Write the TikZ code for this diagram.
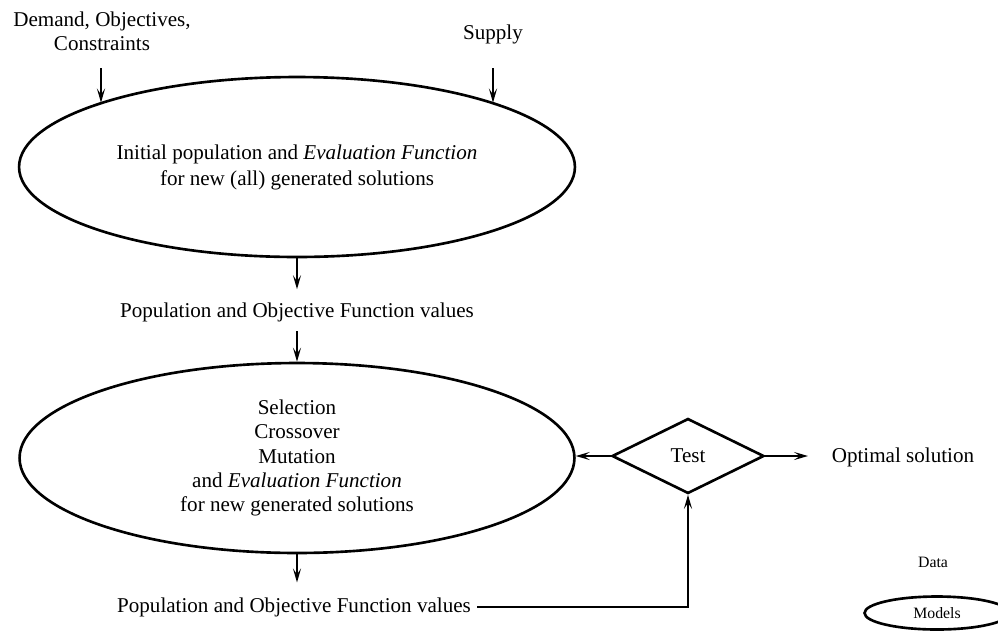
\documentclass[tikz,border=0pt]{standalone}
\usepackage{fontspec}
\setmainfont{Liberation Serif}
\usetikzlibrary{shapes.geometric,arrows.meta}

\tikzset{
  txt/.style={font=\fontsize{12}{13.8}\selectfont, align=center},
  small/.style={font=\fontsize{9}{10.5}\selectfont, align=center},
  bigell/.style={ellipse, draw, line width=1.5pt, inner sep=0pt,
                 font=\fontsize{12}{13.8}\selectfont, align=center},
  tip/.style={-{Stealth[length=8pt,width=4.6pt,inset=3.4pt]}},
  arr/.style={line width=1pt, tip},
}

\begin{document}
\begin{tikzpicture}[x=0.02cm, y=-0.02cm]
  \useasboundingbox (0,0) rectangle (998,630);

  % inputs
  \node[txt] (dem) at (102,31) {Demand, Objectives,\\Constraints};
  \node[txt] (sup) at (493,34) {Supply};

  % initial population
  \node[bigell, minimum width=11.12cm, minimum height=3.6cm] (init) at (297,167)
    {Initial population and \textit{Evaluation Function}\\[1pt]for new (all) generated solutions};

  \coordinate (d1) at (101,68);
  \coordinate (s1) at (493,68);
  \draw[arr] (d1) -- (d1 |- init.162);
  \draw[arr] (s1) -- (s1 |- init.18);

  \node[txt] (pop1) at (297,312) {Population and Objective Function values};
  \draw[arr, shorten >=4pt] (init.south) -- (pop1.north);

  % genetic operators
  \node[bigell, minimum width=11.1cm, minimum height=3.8cm] (sel) at (297,458)
    {Selection\\Crossover\\Mutation\\and \textit{Evaluation Function}\\for new generated solutions};
  \draw[arr, shorten <=2pt] (pop1.south) -- (sel.north);

  \node[txt] (pop2) at (294,607) {Population and Objective Function values};
  \draw[arr, shorten >=5pt] (sel.south) -- (sel.south |- pop2.north);

  % termination test
  \node[diamond, draw, line width=1.5pt, inner sep=0pt, aspect=2,
        minimum width=3.04cm, minimum height=1.5cm, txt] (test) at (688,456) {Test};
  \draw[line width=1.1pt, tip] (pop2.east) -| (test.south);
  \draw[arr] (test.west) -- (test.west -| sel.east);

  \coordinate (o1) at (808,456);
  \draw[arr] (test.east) -- (o1);
  \node[txt] (opt) at (903,457) {Optimal solution};

  % legend
  \node[small] (data) at (933,562) {Data};
  \node[ellipse, draw, line width=1.5pt, inner sep=0pt, minimum width=2.9cm,
        minimum height=0.66cm, small] (mod) at (937,613) {Models};
\end{tikzpicture}
\end{document}
